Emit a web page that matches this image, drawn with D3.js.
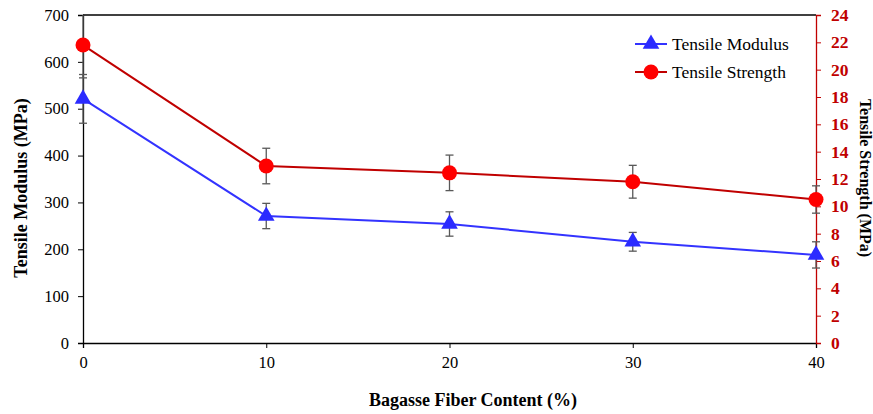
<!DOCTYPE html>
<html>
<head>
<meta charset="utf-8">
<script src="https://cdn.jsdelivr.net/npm/d3@7"></script>
<style>
body { margin: 0; background: #fff; }
text { font-family: "Liberation Serif", "Times New Roman", serif; }
</style>
</head>
<body>
<div id="chart"></div>
<script>
// data
var fiber = [0, 10, 20, 30, 40];
var modulus = [521, 271, 254, 216, 188];
var modulusErr = [52, 27, 26, 20, 28];
var strength = [21.8, 12.95, 12.45, 11.8, 10.5];
var strengthErr = [2.4, 1.3, 1.3, 1.2, 1.0];
var leftTicks = [0, 100, 200, 300, 400, 500, 600, 700];
var rightTicks = [0, 2, 4, 6, 8, 10, 12, 14, 16, 18, 20, 22, 24];

var width = 873, height = 414;
var margin = {left: 83, right: 57, top: 15, bottom: 71};
var innerW = width - margin.left - margin.right;
var innerH = height - margin.top - margin.bottom;

var svg = d3.select("#chart").append("svg")
    .attr("width", width)
    .attr("height", height);

var g = svg.append("g")
    .attr("transform", "translate(" + margin.left + "," + margin.top + ")");

var x = d3.scaleLinear().domain([0, 40]).range([0, innerW]);
var yL = d3.scaleLinear().domain([0, 700]).range([innerH, 0]);
var yR = d3.scaleLinear().domain([0, 24]).range([innerH, 0]);

// top border
g.append("line")
    .attr("x1", 0).attr("x2", innerW)
    .attr("y1", 0).attr("y2", 0)
    .attr("stroke", "#000").attr("stroke-width", 1.3);

// x axis
var xAxis = g.append("g")
    .attr("transform", "translate(0," + innerH + ")")
    .call(d3.axisBottom(x).tickValues(fiber).tickSize(5).tickPadding(8));
xAxis.select(".domain").attr("stroke", "#000").attr("stroke-width", 1.3);
xAxis.selectAll("text").attr("font-size", 16.5).attr("fill", "#000");

// left axis
var leftAxis = g.append("g")
    .call(d3.axisLeft(yL).tickValues(leftTicks).tickSize(5).tickPadding(9));
leftAxis.select(".domain").attr("stroke", "#000").attr("stroke-width", 1.3);
leftAxis.selectAll("text").attr("font-size", 16.5).attr("fill", "#000");

// right axis
var rightAxis = g.append("g")
    .attr("transform", "translate(" + innerW + ",0)")
    .call(d3.axisRight(yR).tickValues(rightTicks).tickSize(5).tickPadding(10));
rightAxis.select(".domain").attr("stroke", "#c00000").attr("stroke-width", 1.3);
rightAxis.selectAll("line").attr("stroke", "#c00000");
rightAxis.selectAll("text").attr("font-size", 17.5).attr("font-weight", "bold").attr("fill", "#c00000");

// clip for error bars
svg.append("clipPath").attr("id", "clip")
    .append("rect").attr("x", -10).attr("y", 0).attr("width", innerW + 20).attr("height", innerH);

function errorBars(vals, errs, y) {
    var eg = g.append("g").attr("clip-path", "url(#clip)");
    vals.forEach(function (v, i) {
        var cx = x(fiber[i]);
        eg.append("line")
            .attr("x1", cx).attr("x2", cx)
            .attr("y1", y(v - errs[i])).attr("y2", y(v + errs[i]))
            .attr("stroke", "#595959").attr("stroke-width", 1.3);
        [v - errs[i], v + errs[i]].forEach(function (e) {
            eg.append("line")
                .attr("x1", cx - 4).attr("x2", cx + 4)
                .attr("y1", y(e)).attr("y2", y(e))
                .attr("stroke", "#595959").attr("stroke-width", 1.3);
        });
    });
}

errorBars(strength, strengthErr, yR);
errorBars(modulus, modulusErr, yL);

var tri = d3.symbol().type(d3.symbolTriangle).size(120);

// modulus line
g.append("path")
    .datum(modulus)
    .attr("fill", "none")
    .attr("stroke", "#3333ff")
    .attr("stroke-width", 2)
    .attr("d", d3.line().x(function (d, i) { return x(fiber[i]); }).y(function (d) { return yL(d); }));

g.selectAll(".tri")
    .data(modulus)
    .enter()
    .append("path")
    .attr("class", "tri")
    .attr("d", tri)
    .attr("fill", "#2b2bff")
    .attr("transform", function (d, i) { return "translate(" + x(fiber[i]) + "," + yL(d) + ")"; });

// strength line
g.append("path")
    .datum(strength)
    .attr("fill", "none")
    .attr("stroke", "#c00000")
    .attr("stroke-width", 2)
    .attr("d", d3.line().x(function (d, i) { return x(fiber[i]); }).y(function (d) { return yR(d); }));

g.selectAll(".dot")
    .data(strength)
    .enter()
    .append("circle")
    .attr("class", "dot")
    .attr("r", 7.5)
    .attr("fill", "#ff0000")
    .attr("cx", function (d, i) { return x(fiber[i]); })
    .attr("cy", function (d) { return yR(d); });

// legend
var legend = svg.append("g");
var lg1 = legend.append("g").attr("transform", "translate(635,44)");
lg1.append("line").attr("x1", 0).attr("x2", 32).attr("stroke", "#3333ff").attr("stroke-width", 2);
lg1.append("path").attr("d", tri).attr("fill", "#2b2bff").attr("transform", "translate(16,0)");
lg1.append("text").attr("x", 37).attr("y", 6).attr("font-size", 17.5).text("Tensile Modulus");

var lg2 = legend.append("g").attr("transform", "translate(635,72)");
lg2.append("line").attr("x1", 0).attr("x2", 32).attr("stroke", "#c00000").attr("stroke-width", 2);
lg2.append("circle").attr("cx", 16).attr("r", 7.5).attr("fill", "#ff0000");
lg2.append("text").attr("x", 37).attr("y", 6).attr("font-size", 17.5).text("Tensile Strength");

// axis titles
svg.append("text")
    .attr("transform", "translate(27,188) rotate(-90)")
    .attr("text-anchor", "middle")
    .attr("font-size", 18).attr("font-weight", "bold")
    .text("Tensile Modulus (MPa)");

svg.append("text")
    .attr("transform", "translate(860,178) rotate(90)")
    .attr("text-anchor", "middle")
    .attr("font-size", 16).attr("font-weight", "bold")
    .text("Tensile Strength (MPa)");

svg.append("text")
    .attr("x", 473)
    .attr("y", 406)
    .attr("text-anchor", "middle")
    .attr("font-size", 18).attr("font-weight", "bold")
    .text("Bagasse Fiber Content (%)");
</script>
</body>
</html>
